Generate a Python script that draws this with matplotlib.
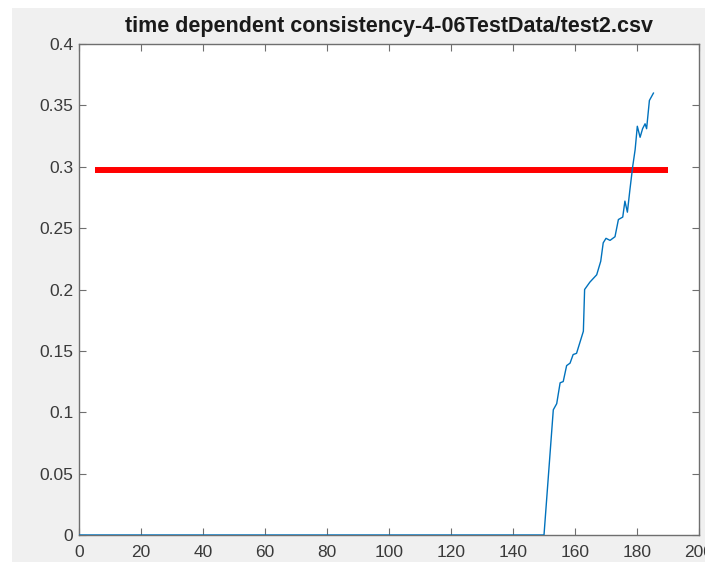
import matplotlib
matplotlib.use("Agg")
import matplotlib.pyplot as plt
from matplotlib.patches import Rectangle

# ---- data ----
t_values = [0, 150, 153.0, 154.1, 155.2, 156.2, 157.3, 158.4, 159.4, 160.5, 161.6, 162.7,
            163.1, 164.8, 167.0, 168.3, 169.1, 170.0, 171.3, 172.9, 174.0, 175.4, 176.1,
            176.9, 177.7, 178.6, 179.4, 180.1, 181.0, 181.8, 182.6, 183.1, 184.0, 185.3]
consistency = [0, 0, 0.102, 0.107, 0.124, 0.125, 0.138, 0.140, 0.147, 0.148, 0.157, 0.166,
               0.200, 0.206, 0.212, 0.223, 0.238, 0.2417, 0.240, 0.243, 0.257, 0.259, 0.272,
               0.263, 0.281, 0.300, 0.314, 0.333, 0.324, 0.331, 0.335, 0.331, 0.354, 0.360]
threshold_x = [5, 190]
threshold_y = [0.297, 0.297]
x_ticks = [0, 20, 40, 60, 80, 100, 120, 140, 160, 180, 200]
y_ticks = [0, 0.05, 0.1, 0.15, 0.2, 0.25, 0.3, 0.35, 0.4]
y_tick_labels = ["0", "0.05", "0.1", "0.15", "0.2", "0.25", "0.3", "0.35", "0.4"]
title_text = "time dependent consistency-4-06TestData/test2.csv"

plt.rcParams['font.family'] = ['Liberation Sans', 'DejaVu Sans']

W, H = 705, 570
fig = plt.figure(figsize=(W / 100, H / 100), dpi=100, facecolor='white')
fig.patches.append(Rectangle((12 / W, 8 / H), 1 - 12 / W, (562 - 8) / H,
                             transform=fig.transFigure, facecolor='#F0F0F0',
                             edgecolor='none', zorder=-10))

ax = fig.add_axes([79 / W, (H - 535) / H, (699 - 79) / W, (535 - 44) / H])
ax.set_facecolor('white')

ax.plot(threshold_x, threshold_y, color='#FF0000', linewidth=4.3, solid_capstyle='butt', zorder=2)
ax.plot(t_values, consistency, color='#0072BD', linewidth=1.0, zorder=3)

ax.set_xlim(0, 200)
ax.set_ylim(0, 0.4)
ax.set_xticks(x_ticks)
ax.set_yticks(y_ticks)
ax.set_yticklabels(y_tick_labels)

axis_col = '#6f6f6f'
text_col = '#3a3a3a'
for s in ax.spines.values():
    s.set_color(axis_col)
    s.set_linewidth(1.0)
ax.tick_params(direction='in', length=5, width=0.8, color=axis_col,
               labelcolor=text_col, labelsize=12.5, top=True, right=True)
ax.tick_params(axis='x', pad=7)
ax.tick_params(axis='y', pad=4)

ax.set_title(title_text, fontsize=15.5, fontweight='bold', color='#1a1a1a', pad=8.5)

fig.savefig('out.png', dpi=100, facecolor='white')
